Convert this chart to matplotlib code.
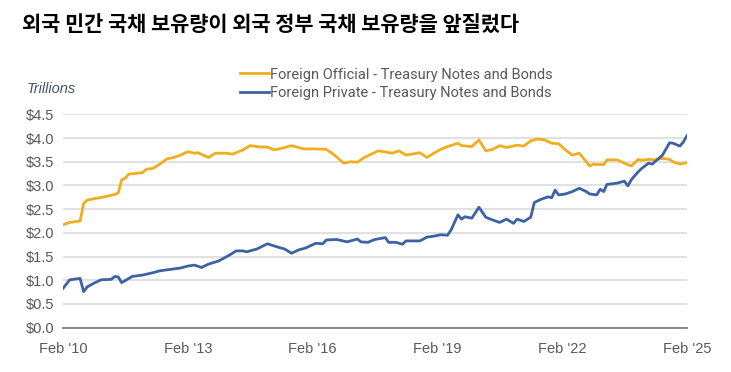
import numpy as np
import matplotlib.pyplot as plt
import matplotlib.dates as mdates
import pandas as pd

title = '외국 민간 국채 보유량이 외국 정부 국채 보유량을 앞질렀다'
start = pd.Timestamp('2010-02-01')

# months after Feb 2010, and holdings in $ trillions
official_m = [0, 2, 4, 5, 6, 7, 9, 12, 15, 16, 17, 18, 19, 23, 24, 26, 28, 30, 32, 34,
              35, 36, 38, 39, 42, 44, 47, 49, 52, 54, 57, 59, 61, 63, 66, 69, 70, 73, 76, 78,
              81, 83, 85, 87, 89, 91, 95, 97, 99, 103, 105, 107, 109, 111, 114, 115, 118, 120, 122, 124,
              126, 128, 131, 133, 135, 137, 139, 141, 143, 145, 147, 149, 150, 152, 153, 154, 156, 157, 160, 162,
              164, 166, 167, 169, 171, 173, 175, 176, 178, 180]
official_v = [2.17, 2.22, 2.24, 2.25, 2.62, 2.69, 2.72, 2.76, 2.81, 2.84, 3.12, 3.15, 3.24, 3.27, 3.34, 3.36, 3.45, 3.56, 3.59, 3.64,
              3.68, 3.71, 3.68, 3.69, 3.59, 3.68, 3.68, 3.66, 3.75, 3.84, 3.81, 3.81, 3.75, 3.78, 3.84, 3.78, 3.77, 3.77, 3.76, 3.66,
              3.47, 3.50, 3.49, 3.59, 3.66, 3.73, 3.68, 3.73, 3.64, 3.69, 3.59, 3.68, 3.76, 3.82, 3.89, 3.84, 3.82, 3.96, 3.73, 3.76,
              3.84, 3.80, 3.85, 3.83, 3.94, 3.98, 3.96, 3.89, 3.88, 3.75, 3.64, 3.68, 3.59, 3.41, 3.45, 3.44, 3.44, 3.54, 3.54, 3.47,
              3.41, 3.55, 3.53, 3.55, 3.54, 3.57, 3.55, 3.50, 3.45, 3.48]

private_m = [0, 2, 5, 6, 7, 9, 11, 14, 15, 16, 17, 20, 23, 26, 28, 31, 34, 36, 38, 40,
             42, 45, 48, 50, 52, 53, 56, 59, 62, 64, 66, 68, 70, 73, 75, 76, 79, 82, 85, 86,
             88, 90, 93, 94, 96, 98, 99, 103, 105, 107, 109, 111, 112, 114, 115, 116, 118, 120, 122, 124,
             126, 128, 130, 131, 133, 135, 136, 138, 140, 141, 142, 143, 145, 147, 149, 151, 152, 154, 155, 156,
             157, 160, 162, 163, 164, 166, 167, 169, 170, 173, 175, 176, 178, 179, 180]
private_v = [0.83, 1.01, 1.04, 0.76, 0.86, 0.94, 1.01, 1.02, 1.08, 1.07, 0.95, 1.08, 1.11, 1.16, 1.20, 1.23, 1.26, 1.30, 1.32, 1.27,
             1.34, 1.41, 1.53, 1.62, 1.62, 1.60, 1.66, 1.77, 1.70, 1.66, 1.57, 1.64, 1.68, 1.78, 1.77, 1.85, 1.86, 1.81, 1.87, 1.81,
             1.80, 1.86, 1.90, 1.80, 1.80, 1.76, 1.83, 1.83, 1.91, 1.93, 1.96, 1.95, 2.06, 2.38, 2.29, 2.34, 2.31, 2.54, 2.33, 2.27,
             2.22, 2.29, 2.20, 2.29, 2.24, 2.33, 2.64, 2.71, 2.76, 2.74, 2.90, 2.80, 2.82, 2.87, 2.94, 2.87, 2.82, 2.80, 2.92, 2.87,
             3.02, 3.05, 3.09, 2.99, 3.12, 3.29, 3.36, 3.47, 3.45, 3.64, 3.90, 3.89, 3.83, 3.92, 4.05]

yticks = [0.0, 0.5, 1.0, 1.5, 2.0, 2.5, 3.0, 3.5, 4.0, 4.5]
xtick_years = [2010, 2013, 2016, 2019, 2022, 2025]

orange = '#F0AE1E'
blue = '#3C62A3'
gray = '#595959'

def to_dates(months):
    return [start + pd.DateOffset(months=m) for m in months]

fig = plt.figure(figsize=(7.31, 3.72), dpi=100)
ax = fig.add_axes([0.0862, 0.1191, 0.8536, 0.5736])

l1, = ax.plot(to_dates(official_m), official_v, color=orange, lw=2.0, solid_joinstyle='round')
l2, = ax.plot(to_dates(private_m), private_v, color=blue, lw=2.0, solid_joinstyle='round')

ax.set_ylim(0, 4.5)
ax.set_xlim(start, pd.Timestamp('2025-02-01'))
ax.set_yticks(yticks)
ax.set_yticklabels(['${:.1f}'.format(t) for t in yticks])
ax.set_xticks([pd.Timestamp(f'{y}-02-01') for y in xtick_years])
ax.xaxis.set_major_formatter(mdates.DateFormatter("%b '%y"))
ax.tick_params(length=0, labelsize=10.5, labelcolor=gray, pad=6)
ax.tick_params(axis='x', pad=10)
for lab in ax.get_xticklabels() + ax.get_yticklabels():
    lab.set_family('Liberation Sans')
ax.yaxis.grid(True, color='#d9d9d9', lw=1.1)
ax.set_axisbelow(True)
for s in ['top', 'right', 'left']:
    ax.spines[s].set_visible(False)
ax.spines['bottom'].set_color('#808080')
ax.spines['bottom'].set_linewidth(1.3)

fig.text(0.03, 0.96, title, fontsize=15, fontweight='bold',
         family=['Noto Sans CJK KR', 'DejaVu Sans'], va='top', ha='left')
fig.text(0.037, 0.76, 'Trillions', fontsize=10.5, style='italic', color='#44546A',
         va='center', family='Liberation Sans')

leg = fig.legend([l1, l2], ['Foreign Official - Treasury Notes and Bonds',
                            'Foreign Private - Treasury Notes and Bonds'],
                 loc='center', bbox_to_anchor=(0.542, 0.775), frameon=False,
                 handlelength=2.0, handletextpad=0.1, labelspacing=0.3,
                 prop={'family': 'Roboto', 'size': 10.5})
for t in leg.get_texts():
    t.set_color(gray)

fig.savefig('out.png', dpi=100)
